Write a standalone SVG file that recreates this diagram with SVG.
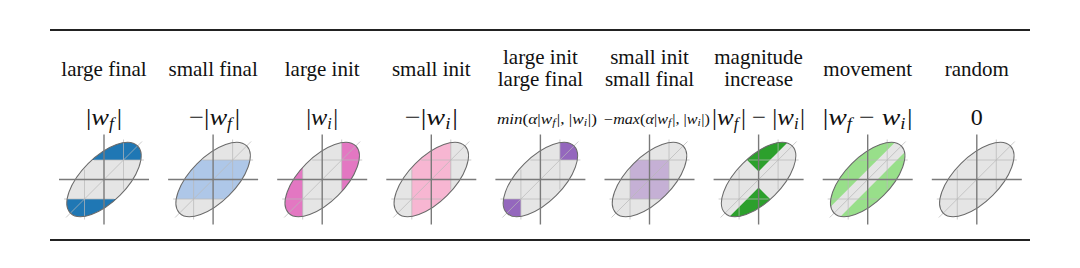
<svg xmlns="http://www.w3.org/2000/svg" xmlns:xlink="http://www.w3.org/1999/xlink" width="1080" height="268" viewBox="0 0 1080 268">
<style>
  .title { font-family: "Liberation Serif", "Times New Roman", serif; font-size: 21px; fill: #111; text-anchor: middle; }
  .math { font-family: "Liberation Serif", "Times New Roman", serif; font-size: 24px; fill: #111; text-anchor: middle; }
  .maths { font-family: "Liberation Serif", "Times New Roman", serif; font-size: 14px; fill: #111; text-anchor: middle; }
  .it { font-style: italic; }
  .sub { font-style: italic; font-size: 16px; }
  .subs { font-style: italic; font-size: 10px; }
  .ellfill { fill: #e5e5e5; stroke: none; }
  .ellstroke { fill: none; stroke: #6a6a6a; stroke-width: 1; }
  .grid line { stroke: #b8b8b8; stroke-width: 0.9; stroke-opacity: 0.8; }
  .axes line { stroke: #7a7a7a; stroke-width: 1.4; }
  .rule { stroke: #222; stroke-width: 2; }
</style>
<defs>
  <clipPath id="clip" clipPathUnits="userSpaceOnUse">
    <ellipse cx="0" cy="0" rx="47.5" ry="22.5" transform="rotate(-45)"/>
  </clipPath>
  <ellipse id="ell" cx="0" cy="0" rx="47.5" ry="22.5" transform="rotate(-45)"/>
  <g id="grid" class="grid">
    <line x1="19.5" y1="-40" x2="19.5" y2="10"/>
    <line x1="-19.5" y1="-10" x2="-19.5" y2="40"/>
    <line x1="-10" y1="-19.5" x2="40" y2="-19.5"/>
    <line x1="-40" y1="19.5" x2="10" y2="19.5"/>
    <line x1="-38" y1="38" x2="38" y2="-38"/>
  </g>
  <g id="axes" class="axes">
    <line x1="0" y1="-45" x2="0" y2="45"/>
    <line x1="-45" y1="0" x2="45" y2="0"/>
  </g>
</defs>

<line class="rule" x1="50" y1="30" x2="1030" y2="30"/>
<line class="rule" x1="50" y1="240" x2="1030" y2="240"/>

<g id="connectors"></g>

<g id="large-final" transform="translate(104,179.5)">
  <text class="title" x="0" y="-103.5">large final</text>
  <text class="math" x="0" y="-54.5" textLength="36" lengthAdjust="spacingAndGlyphs">|<tspan class="it">w</tspan><tspan class="sub" dy="4">f</tspan><tspan dy="-4" dx="2.5">|</tspan></text>
  <use href="#ell" class="ellfill"/>
  <g clip-path="url(#clip)" fill="#1f77b4">
    <rect x="-50" y="-50" width="100" height="30.5"/>
    <rect x="-50" y="19.5" width="100" height="30.5"/>
  </g>
  <use href="#grid"/>
  <use href="#ell" class="ellstroke"/>
  <use href="#axes"/>
</g>

<g id="small-final" transform="translate(213.1,179.5)">
  <text class="title" x="0" y="-103.5">small final</text>
  <text class="math" x="1.5" y="-54.5" textLength="51" lengthAdjust="spacingAndGlyphs">−|<tspan class="it">w</tspan><tspan class="sub" dy="4">f</tspan><tspan dy="-4" dx="2.5">|</tspan></text>
  <use href="#ell" class="ellfill"/>
  <g clip-path="url(#clip)" fill="#aec7e8">
    <rect x="-50" y="-19.5" width="100" height="39"/>
  </g>
  <use href="#grid"/>
  <use href="#ell" class="ellstroke"/>
  <use href="#axes"/>
</g>

<g id="large-init" transform="translate(322.2,179.5)">
  <text class="title" x="0" y="-103.5">large init</text>
  <text class="math" x="0" y="-54.5" textLength="32" lengthAdjust="spacingAndGlyphs">|<tspan class="it">w</tspan><tspan class="sub" dy="4">i</tspan><tspan dy="-4" dx="1.5">|</tspan></text>
  <use href="#ell" class="ellfill"/>
  <g clip-path="url(#clip)" fill="#e377c2">
    <rect x="19.5" y="-50" width="30.5" height="100"/>
    <rect x="-50" y="-50" width="30.5" height="100"/>
  </g>
  <use href="#grid"/>
  <use href="#ell" class="ellstroke"/>
  <use href="#axes"/>
</g>

<g id="small-init" transform="translate(431.3,179.5)">
  <text class="title" x="0" y="-103.5">small init</text>
  <text class="math" x="0" y="-54.5" textLength="53" lengthAdjust="spacingAndGlyphs">−|<tspan class="it">w</tspan><tspan class="sub" dy="4">i</tspan><tspan dy="-4" dx="1.5">|</tspan></text>
  <use href="#ell" class="ellfill"/>
  <g clip-path="url(#clip)" fill="#f7b6d2">
    <rect x="-19.5" y="-50" width="39" height="100"/>
  </g>
  <use href="#grid"/>
  <use href="#ell" class="ellstroke"/>
  <use href="#axes"/>
</g>

<g id="large-init-large-final" transform="translate(540.4,179.5)">
  <text class="title" x="0" y="-115.5">large init</text>
  <text class="title" x="0" y="-93.5">large final</text>
  <text class="maths" x="6.5" y="-55.5" textLength="100" lengthAdjust="spacingAndGlyphs"><tspan class="it">min</tspan>(<tspan class="it">α</tspan>|<tspan class="it">w</tspan><tspan class="subs" dy="2">f</tspan><tspan dy="-2" dx="1">|, |</tspan><tspan class="it">w</tspan><tspan class="subs" dy="2">i</tspan><tspan dy="-2" dx="0.5">|)</tspan></text>
  <use href="#ell" class="ellfill"/>
  <g clip-path="url(#clip)" fill="#9467bd">
    <rect x="19.5" y="-50" width="30.5" height="30.5"/>
    <rect x="-50" y="19.5" width="30.5" height="30.5"/>
  </g>
  <use href="#grid"/>
  <use href="#ell" class="ellstroke"/>
  <use href="#axes"/>
</g>

<g id="small-init-small-final" transform="translate(649.5,179.5)">
  <text class="title" x="0" y="-115.5">small init</text>
  <text class="title" x="0" y="-93.5">small final</text>
  <text class="maths" x="7.5" y="-55.5" textLength="106" lengthAdjust="spacingAndGlyphs">−<tspan class="it">max</tspan>(<tspan class="it">α</tspan>|<tspan class="it">w</tspan><tspan class="subs" dy="2">f</tspan><tspan dy="-2" dx="1">|, |</tspan><tspan class="it">w</tspan><tspan class="subs" dy="2">i</tspan><tspan dy="-2" dx="0.5">|)</tspan></text>
  <use href="#ell" class="ellfill"/>
  <g clip-path="url(#clip)" fill="#c5b0d5">
    <rect x="-19.5" y="-19.5" width="39" height="39"/>
  </g>
  <use href="#grid"/>
  <use href="#ell" class="ellstroke"/>
  <use href="#axes"/>
</g>

<g id="magnitude-increase" transform="translate(758.6,179.5)">
  <text class="title" x="0" y="-115.5">magnitude</text>
  <text class="title" x="0" y="-93.5">increase</text>
  <text class="math" x="0" y="-54.5" textLength="93" lengthAdjust="spacingAndGlyphs">|<tspan class="it">w</tspan><tspan class="sub" dy="4">f</tspan><tspan dy="-4" dx="2.5">| − |</tspan><tspan class="it">w</tspan><tspan class="sub" dy="4">i</tspan><tspan dy="-4" dx="1.5">|</tspan></text>
  <use href="#ell" class="ellfill"/>
  <g clip-path="url(#clip)" fill="#2ca02c">
    <polygon points="0,-8 62,-70 -62,-70"/>
    <polygon points="0,8 62,70 -62,70"/>
  </g>
  <use href="#grid"/>
  <use href="#ell" class="ellstroke"/>
  <use href="#axes"/>
</g>

<g id="movement" transform="translate(867.7,179.5)">
  <text class="title" x="0" y="-103.5">movement</text>
  <text class="math" x="0" y="-54.5" textLength="90" lengthAdjust="spacingAndGlyphs">|<tspan class="it">w</tspan><tspan class="sub" dy="4">f</tspan><tspan dy="-4"> − </tspan><tspan class="it">w</tspan><tspan class="sub" dy="4">i</tspan><tspan dy="-4" dx="1.5">|</tspan></text>
  <use href="#ell" class="ellfill"/>
  <g clip-path="url(#clip)">
    <g transform="rotate(-45)" fill="#98df8a">
      <rect x="-60" y="-30" width="120" height="23"/>
      <rect x="-60" y="7" width="120" height="23"/>
    </g>
  </g>
  <use href="#grid"/>
  <use href="#ell" class="ellstroke"/>
  <use href="#axes"/>
</g>

<g id="random" transform="translate(976.8,179.5)">
  <text class="title" x="0" y="-103.5">random</text>
  <text class="math" x="0" y="-54.5">0</text>
  <use href="#ell" class="ellfill"/>
  <use href="#grid"/>
  <use href="#ell" class="ellstroke"/>
  <use href="#axes"/>
</g>
</svg>
